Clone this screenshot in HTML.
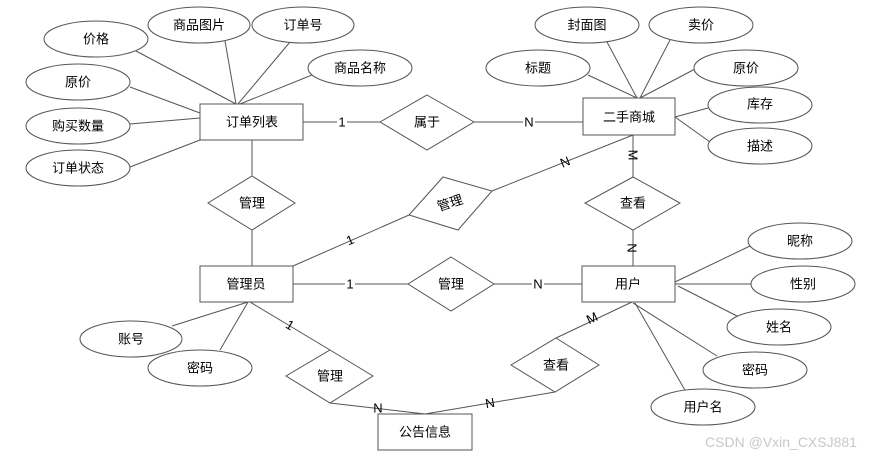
<!DOCTYPE html>
<html><head><meta charset="utf-8"><style>
html,body{margin:0;padding:0;background:#fff;}
svg{display:block;}
text{font-family:"Liberation Sans","Noto Sans CJK SC",sans-serif;font-size:13px;fill:#000;text-anchor:middle;dominant-baseline:central;}
.l{stroke:#555;stroke-width:1;fill:none;}
.s{fill:#fff;stroke:#555;stroke-width:1;}
.lb{fill:#fff;}
</style></head><body>
<svg width="869" height="457" viewBox="0 0 869 457">
<!-- lines -->
<g class="l">
<line x1="136" y1="51" x2="236" y2="104"/>
<line x1="225" y1="41" x2="236" y2="104"/>
<line x1="290" y1="42" x2="238" y2="104"/>
<line x1="312" y1="75" x2="240" y2="104"/>
<line x1="130" y1="87" x2="200" y2="113"/>
<line x1="130" y1="124" x2="200" y2="118"/>
<line x1="130" y1="167" x2="200" y2="140"/>
<line x1="303" y1="122" x2="380" y2="122"/>
<line x1="474" y1="122" x2="583" y2="122"/>
<line x1="588" y1="75" x2="637" y2="98"/>
<line x1="607" y1="42" x2="637" y2="98"/>
<line x1="670" y1="40" x2="640" y2="98"/>
<line x1="695" y1="69" x2="640" y2="98"/>
<line x1="708" y1="108" x2="675" y2="117"/>
<line x1="710" y1="142" x2="675" y2="117"/>
<line x1="633" y1="135" x2="633" y2="177"/>
<line x1="633" y1="230" x2="633" y2="266"/>
<line x1="492" y1="191" x2="633" y2="135"/>
<line x1="293" y1="266" x2="409" y2="215"/>
<line x1="252" y1="140" x2="252" y2="176"/>
<line x1="252" y1="230" x2="252" y2="266"/>
<line x1="293" y1="284" x2="408" y2="284"/>
<line x1="494" y1="284" x2="582" y2="284"/>
<line x1="675" y1="282" x2="750" y2="246"/>
<line x1="675" y1="284" x2="752" y2="284"/>
<line x1="678" y1="286" x2="737" y2="316"/>
<line x1="633" y1="303" x2="717" y2="356"/>
<line x1="635" y1="303" x2="686" y2="392"/>
<line x1="172" y1="326" x2="248" y2="302"/>
<line x1="220" y1="350" x2="248" y2="302"/>
<line x1="250" y1="302" x2="330" y2="350"/>
<line x1="330" y1="403" x2="425" y2="414"/>
<line x1="555" y1="392" x2="425" y2="414"/>
<line x1="556" y1="338" x2="632" y2="302"/>
</g>
<!-- ellipses -->
<g class="s">
<ellipse cx="96" cy="39" rx="52" ry="18"/>
<ellipse cx="199" cy="25" rx="51" ry="18"/>
<ellipse cx="303" cy="25" rx="51" ry="18"/>
<ellipse cx="360" cy="68" rx="52" ry="18"/>
<ellipse cx="78" cy="82" rx="52" ry="18"/>
<ellipse cx="78" cy="126" rx="52" ry="18"/>
<ellipse cx="78" cy="168" rx="52" ry="18"/>
<ellipse cx="587" cy="25" rx="52" ry="18"/>
<ellipse cx="701" cy="25" rx="52" ry="18"/>
<ellipse cx="538" cy="68" rx="52" ry="18"/>
<ellipse cx="746" cy="68" rx="52" ry="18"/>
<ellipse cx="760" cy="105" rx="52" ry="18"/>
<ellipse cx="760" cy="146" rx="52" ry="18"/>
<ellipse cx="800" cy="241" rx="52" ry="18"/>
<ellipse cx="803" cy="284" rx="52" ry="18"/>
<ellipse cx="779" cy="327" rx="52" ry="18"/>
<ellipse cx="755" cy="370" rx="52" ry="18"/>
<ellipse cx="703" cy="407" rx="52" ry="18"/>
<ellipse cx="131" cy="339" rx="51" ry="18"/>
<ellipse cx="200" cy="368" rx="52" ry="18"/>
<!-- rects -->
<rect x="200" y="104" width="103" height="36"/>
<rect x="583" y="98" width="92" height="37"/>
<rect x="200" y="266" width="93" height="36"/>
<rect x="582" y="266" width="93" height="36"/>
<rect x="378" y="414" width="94" height="36"/>
<!-- diamonds -->
<polygon points="427,95 474,122 427,150 380,122"/>
<polygon points="633,177 680,203 633,230 585,203"/>
<polygon points="443,177 492,191 458,230 409,215"/>
<polygon points="252,176 295,203 252,230 208,203"/>
<polygon points="451,257 494,284 451,311 408,284"/>
<polygon points="330,350 373,376 330,403 286,376"/>
<polygon points="556,338 599,365 555,392 511,365"/>
</g>
<!-- relationship labels -->
<rect class="lb" x="337" y="115" width="10" height="14"/><text x="342" y="122">1</text>
<rect class="lb" x="523" y="115" width="12" height="14"/><text x="529" y="122">N</text>
<text x="565" y="162" transform="rotate(-22 565 162)">N</text>
<text x="633" y="155" transform="rotate(90 633 155)">M</text>
<text x="632" y="248" transform="rotate(90 632 248)">N</text>
<text x="350" y="240" transform="rotate(-22 350 240)">1</text>
<rect class="lb" x="345" y="277" width="10" height="14"/><text x="350" y="284">1</text>
<rect class="lb" x="532" y="277" width="12" height="14"/><text x="538" y="284">N</text>
<text x="290" y="325" transform="rotate(30 290 325)">1</text>
<text x="378" y="408">N</text>
<text x="490" y="403" transform="rotate(-10 490 403)">N</text>
<text x="592" y="318" transform="rotate(-25 592 318)">M</text>
<!-- texts -->
<text x="96" y="39">价格</text>
<text x="199" y="25">商品图片</text>
<text x="303" y="25">订单号</text>
<text x="360" y="68">商品名称</text>
<text x="78" y="82">原价</text>
<text x="78" y="126">购买数量</text>
<text x="78" y="168">订单状态</text>
<text x="252" y="122">订单列表</text>
<text x="427" y="122">属于</text>
<text x="587" y="25">封面图</text>
<text x="701" y="25">卖价</text>
<text x="538" y="68">标题</text>
<text x="746" y="68">原价</text>
<text x="760" y="104">库存</text>
<text x="760" y="146">描述</text>
<text x="629" y="117">二手商城</text>
<text x="633" y="203">查看</text>
<text x="450" y="203" transform="rotate(-18 450 203)">管理</text>
<text x="252" y="203">管理</text>
<text x="246" y="284">管理员</text>
<text x="451" y="284">管理</text>
<text x="628" y="284">用户</text>
<text x="800" y="241">昵称</text>
<text x="803" y="284">性别</text>
<text x="779" y="327">姓名</text>
<text x="755" y="370">密码</text>
<text x="703" y="407">用户名</text>
<text x="131" y="339">账号</text>
<text x="200" y="368">密码</text>
<text x="330" y="376">管理</text>
<text x="556" y="365">查看</text>
<text x="425" y="432">公告信息</text>
<text x="781" y="442" style="fill:#c8c8c8;font-size:14px;">CSDN @Vxin_CXSJ881</text>
</svg>
</body></html>
